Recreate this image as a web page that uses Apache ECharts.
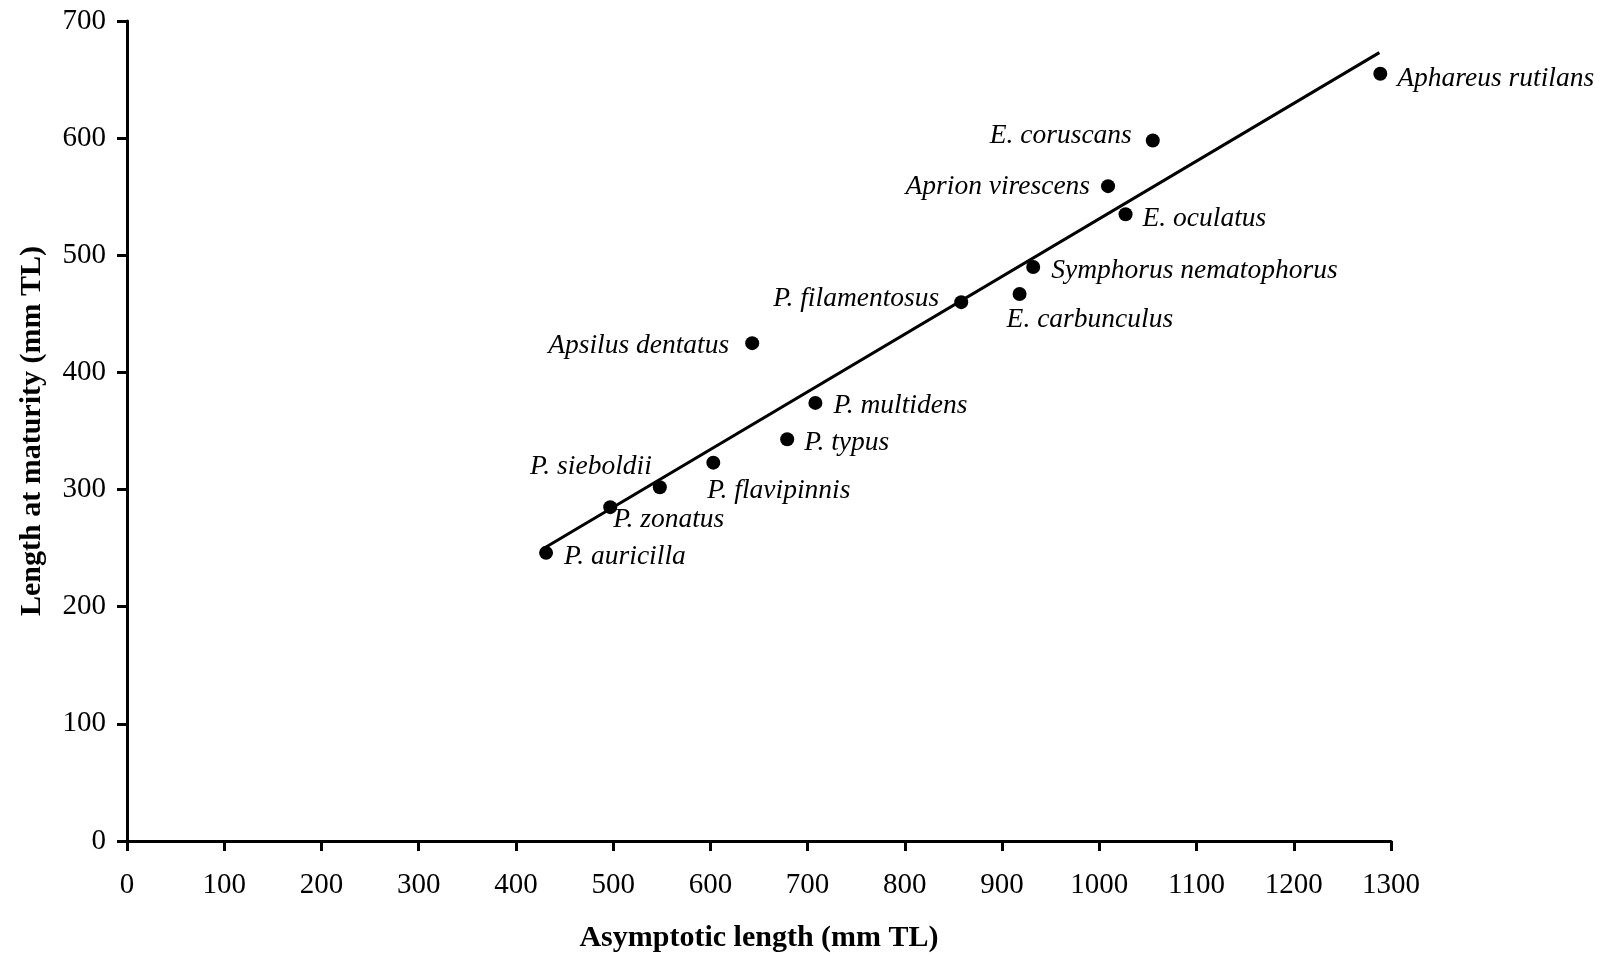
<!DOCTYPE html>
<html>
<head>
<meta charset="utf-8">
<script src="https://cdn.jsdelivr.net/npm/echarts@6/dist/echarts.min.js"></script>
<style>
html,body{margin:0;padding:0;background:#fff;}
#chart{width:1610px;height:956px;}
</style>
</head>
<body>
<div id="chart"></div>
<script>
// Data
const speciesNames = ['Aphareus rutilans','E. coruscans','Aprion virescens','E. oculatus','Symphorus nematophorus','E. carbunculus','P. filamentosus','Apsilus dentatus','P. multidens','P. typus','P. flavipinnis','P. sieboldii','P. zonatus','P. auricilla'];
const asymptoticLength = [1289,1055,1009,1027,932,918,858,643,708,679,603,548,497,431];
const lengthAtMaturity = [655,598,559,535,490,467,460,425,374,343,323,302,285,246];
const fitX = [431,1288];
const fitY = [251,673];
const xTicks = {min:0,max:1300,interval:100};
const yTicks = {min:0,max:700,interval:100};

// Label placement (style): offset of text anchor from dot centre, and alignment
const labelPlace = {
  'Aphareus rutilans':[17,5,'left'],
  'E. coruscans':[-21,-5,'right'],
  'Aprion virescens':[-18,1,'right'],
  'E. oculatus':[17,4,'left'],
  'Symphorus nematophorus':[18,4,'left'],
  'E. carbunculus':[-13,26,'left'],
  'P. filamentosus':[-22,-3,'right'],
  'Apsilus dentatus':[-23,3,'right'],
  'P. multidens':[18,3,'left'],
  'P. typus':[17,4,'left'],
  'P. flavipinnis':[-6,28,'left'],
  'P. sieboldii':[-8,-20,'right'],
  'P. zonatus':[3,13,'left'],
  'P. auricilla':[18,4,'left']
};
const SYM = 14;
const FONT = "'Liberation Serif','Times New Roman',Times,serif";

const scatterData = speciesNames.map((n,i)=>{
  const p = labelPlace[n];
  return {
    name:n,
    value:[asymptoticLength[i],lengthAtMaturity[i]],
    label:{
      show:true,
      formatter:n,
      position:[SYM/2+p[0], SYM/2+p[1]],
      align:p[2],
      verticalAlign:'middle',
      fontFamily:FONT,
      fontStyle:'italic',
      fontSize:27.5,
      color:'#000'
    }
  };
});

const chart = echarts.init(document.getElementById('chart'),null,{renderer:'canvas'});
chart.setOption({
  backgroundColor:'#fff',
  animation:false,
  grid:{left:127,right:219,top:21,bottom:115,containLabel:false,outerBoundsMode:'none'},
  xAxis:{
    type:'value',min:xTicks.min,max:xTicks.max,interval:xTicks.interval,
    name:'Asymptotic length (mm TL)',nameLocation:'middle',nameGap:82,
    nameTextStyle:{fontFamily:FONT,fontWeight:'bold',fontSize:30,color:'#000'},
    axisLine:{show:true,lineStyle:{color:'#000',width:3}},
    axisTick:{show:true,length:10,lineStyle:{color:'#000',width:3}},
    axisLabel:{fontFamily:FONT,fontSize:29,color:'#000',margin:30,formatter:v=>String(v)},
    splitLine:{show:false}
  },
  yAxis:{
    type:'value',min:yTicks.min,max:yTicks.max,interval:yTicks.interval,
    name:'Length at maturity (mm TL)',nameLocation:'middle',nameGap:80,
    nameTextStyle:{fontFamily:FONT,fontWeight:'bold',fontSize:30,color:'#000'},
    axisLine:{show:true,lineStyle:{color:'#000',width:3}},
    axisTick:{show:true,length:10,lineStyle:{color:'#000',width:3}},
    axisLabel:{fontFamily:FONT,fontSize:29,color:'#000',margin:21,formatter:v=>String(v)},
    splitLine:{show:false}
  },
  series:[
    {
      type:'line',
      data:fitX.map((x,i)=>[x,fitY[i]]),
      showSymbol:false,
      lineStyle:{color:'#000',width:3},
      silent:true,
      z:2
    },
    {
      type:'scatter',
      data:scatterData,
      symbol:'circle',
      symbolSize:SYM,
      itemStyle:{color:'#000',opacity:1},
      z:3
    }
  ]
});
</script>
</body>
</html>
